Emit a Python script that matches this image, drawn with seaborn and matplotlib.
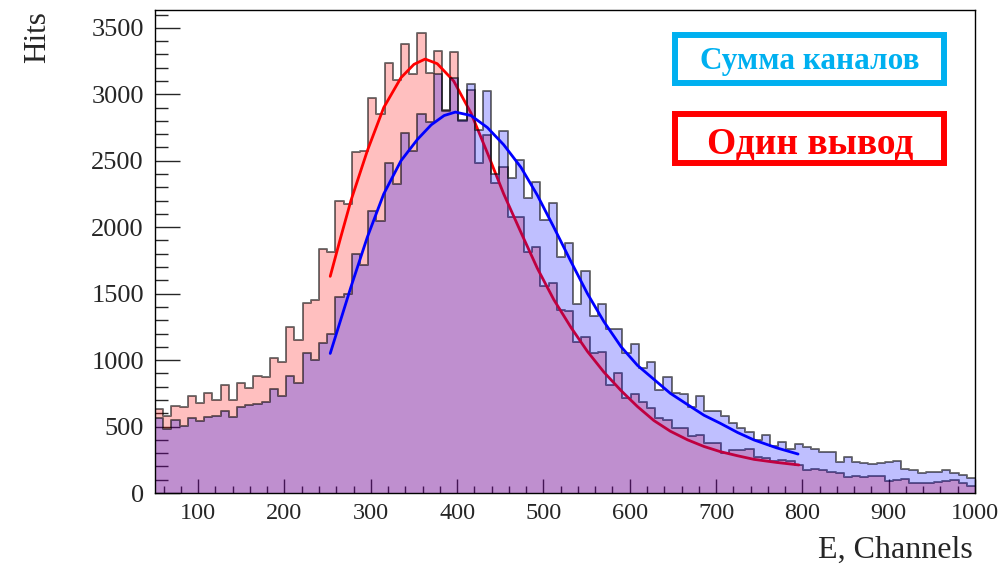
import numpy as np
import pandas as pd
import matplotlib
matplotlib.use("Agg")
import matplotlib.pyplot as plt
from matplotlib.patches import Rectangle
from matplotlib.ticker import MultipleLocator
import seaborn as sns

# Histogram binning (100 bins from 50 to 1000 channels)
E_MIN, E_MAX, N_BINS = 50, 1000, 100

# "Один вывод" (single output) - counts per bin
red_hits = [
    630, 580, 655, 650, 730, 680, 755, 700, 810, 700,
    825, 788, 880, 870, 1012, 988, 1250, 1150, 1430, 1450,
    1835, 1815, 2200, 2175, 2562, 2570, 2970, 2855, 3235, 3110,
    3380, 3150, 3460, 3158, 3328, 2885, 3316, 2800, 3030, 2480,
    2690, 2330, 2455, 2075, 2080, 1816, 1850, 1560, 1578, 1375,
    1370, 1137, 1175, 1050, 1062, 812, 900, 712, 745, 687,
    637, 562, 550, 487, 487, 430, 436, 379, 374, 304,
    324, 324, 331, 273, 261, 243, 248, 243, 211, 173,
    178, 173, 160, 148, 123, 128, 118, 128, 128, 93,
    98, 103, 78, 73, 78, 83, 93, 98, 78, 53,
]

# "Сумма каналов" (channel sum) - counts per bin
blue_hits = [
    562, 480, 550, 505, 562, 538, 575, 580, 620, 575,
    645, 662, 670, 688, 780, 732, 880, 830, 1050, 1000,
    1130, 1200, 1475, 1500, 1800, 1712, 2120, 2050, 2480, 2325,
    2712, 2575, 2855, 2794, 3155, 2875, 3120, 2810, 3080, 2731,
    3027, 2400, 2724, 2368, 2506, 2217, 2343, 2054, 2180, 1778,
    1883, 1420, 1670, 1330, 1420, 1237, 1237, 1055, 1120, 937,
    987, 775, 875, 750, 745, 650, 732, 620, 617, 582,
    529, 487, 461, 399, 436, 354, 384, 329, 369, 344,
    329, 311, 311, 236, 268, 233, 223, 218, 223, 236,
    243, 178, 173, 153, 160, 160, 173, 148, 135, 115,
]

# Fit curves
red_fit_E = [253, 265, 277, 296, 315, 335, 350, 363, 377, 396, 416, 435, 454, 474,
             493, 512, 532, 551, 570, 590, 609, 628, 647, 667, 686, 705, 725, 744,
             770, 796]
red_fit_hits = [1630, 1920, 2200, 2575, 2900, 3125, 3225, 3265, 3230, 3100, 2860, 2560,
                2250, 1960, 1690, 1455, 1245, 1065, 910, 770, 650, 545, 465, 400, 350,
                311, 280, 253, 230, 211]

blue_fit_E = [253, 265, 277, 296, 315, 335, 354, 370, 385, 398, 416, 435, 454, 474,
              493, 512, 532, 551, 570, 590, 609, 628, 647, 667, 686, 705, 725, 744,
              770, 795]
blue_fit_hits = [1050, 1300, 1550, 1925, 2250, 2500, 2660, 2770, 2840, 2866, 2840, 2750,
                 2620, 2450, 2240, 2000, 1740, 1500, 1290, 1100, 960, 855, 750, 665, 585,
                 524, 455, 399, 340, 293]

bin_w = (E_MAX - E_MIN) / N_BINS
centers = E_MIN + bin_w * (np.arange(N_BINS) + 0.5)
df = pd.DataFrame({"E": centers, "red": red_hits, "blue": blue_hits})
red_fit = pd.DataFrame({"E": red_fit_E, "hits": red_fit_hits})
blue_fit = pd.DataFrame({"E": blue_fit_E, "hits": blue_fit_hits})

sns.set_style("ticks")
plt.rcParams["font.family"] = ["Liberation Serif", "DejaVu Serif"]

fig = plt.figure(figsize=(10.03, 5.67), dpi=100)
ax = fig.add_axes([155 / 1003, 74 / 567, 820 / 1003, 483 / 567])

hist_kw = dict(data=df, x="E", binwidth=bin_w, binrange=(E_MIN, E_MAX), element="step", ax=ax)

# single output histogram + its fit (drawn first, so the blue fill tints them)
sns.histplot(weights="red", fill=True, color="red", alpha=0.25, linewidth=0, zorder=1.0, **hist_kw)
sns.histplot(weights="red", fill=False, color="black", alpha=0.55, linewidth=1.4, zorder=1.1, **hist_kw)
sns.lineplot(data=red_fit, x="E", y="hits", color="red", linewidth=2.0, zorder=1.2, ax=ax)

# channel sum histogram + its fit
sns.histplot(weights="blue", fill=True, color="blue", alpha=0.25, linewidth=0, zorder=1.3, **hist_kw)
sns.histplot(weights="blue", fill=False, color="black", alpha=0.55, linewidth=1.4, zorder=1.4, **hist_kw)
sns.lineplot(data=blue_fit, x="E", y="hits", color="blue", linewidth=2.0, zorder=1.5, ax=ax)

ax.set_xlim(E_MIN, E_MAX)
ax.set_ylim(0, 3634)
ax.set_xlabel("")
ax.set_ylabel("")

for s in ax.spines.values():
    s.set_visible(True)
    s.set_linewidth(1.0)
    s.set_color("black")
    s.set_zorder(3)

ax.xaxis.set_major_locator(MultipleLocator(100))
ax.xaxis.set_minor_locator(MultipleLocator(20))
ax.yaxis.set_major_locator(MultipleLocator(500))
ax.yaxis.set_minor_locator(MultipleLocator(100))
ax.tick_params(axis="x", which="major", direction="in", length=10, width=1, labelsize=17.5, pad=7)
ax.tick_params(axis="x", which="minor", direction="in", length=5, width=1)
ax.tick_params(axis="y", which="major", direction="in", length=18, width=1, labelsize=19, pad=8)
ax.tick_params(axis="y", which="minor", direction="in", length=9, width=1)
ax.tick_params(top=False, right=False, which="both")

fig.text(38 / 1003, 1 - 11 / 567, "Hits", rotation=90, ha="center", va="top", fontsize=22.5)
fig.text(973 / 1003, 1 - 550 / 567, "E, Channels", ha="right", va="center", fontsize=23)

# legend boxes
fig.patches.append(Rectangle((675 / 1003, 484 / 567), 269 / 1003, 48 / 567, fill=False,
                             edgecolor="#00B0F0", linewidth=4.3, transform=fig.transFigure))
fig.patches.append(Rectangle((675 / 1003, 404 / 567), 269 / 1003, 49 / 567, fill=False,
                             edgecolor="#FF0000", linewidth=4.3, transform=fig.transFigure))
fig.text(810 / 1003, 1 - 68.5 / 567, "Сумма каналов", color="#00B0F0", fontsize=22.5,
         fontweight="bold", ha="center", va="baseline")
fig.text(810 / 1003, 1 - 153.5 / 567, "Один вывод", color="#FF0000", fontsize=27,
         fontweight="bold", ha="center", va="baseline")

fig.savefig("out.png", dpi=100)
